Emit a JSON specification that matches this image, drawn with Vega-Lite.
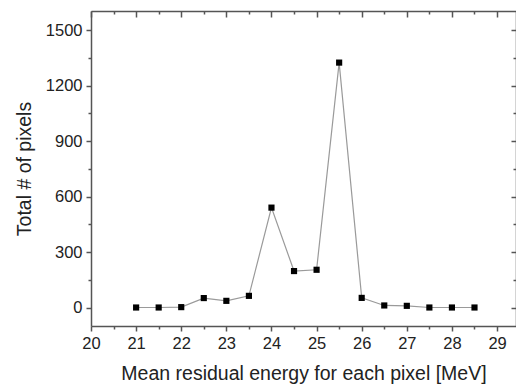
{
  "$schema": "https://vega.github.io/schema/vega-lite/v6.json",
  "autosize": "none",
  "width": 425,
  "height": 315,
  "padding": {"left": 91, "top": 11, "right": 0, "bottom": 59},
  "background": "white",
  "config": {
    "view": {"stroke": null},
    "axis": {
      "labelFont": "Liberation Sans",
      "titleFont": "Liberation Sans",
      "labelFontSize": 16.5,
      "titleFontSize": 19.5,
      "titleFontWeight": "normal",
      "labelColor": "#222",
      "titleColor": "#222",
      "domainColor": "#555",
      "domainWidth": 1.5,
      "tickColor": "#555",
      "tickWidth": 1.5,
      "grid": false
    }
  },
  "data": {
    "values": [
      {"e": 21.0, "n": 0},
      {"e": 21.5, "n": 0},
      {"e": 22.0, "n": 2},
      {"e": 22.5, "n": 51},
      {"e": 23.0, "n": 36},
      {"e": 23.5, "n": 63},
      {"e": 24.0, "n": 540},
      {"e": 24.5, "n": 197},
      {"e": 25.0, "n": 204},
      {"e": 25.5, "n": 1324},
      {"e": 26.0, "n": 52},
      {"e": 26.5, "n": 11},
      {"e": 27.0, "n": 9},
      {"e": 27.5, "n": 0},
      {"e": 28.0, "n": 0},
      {"e": 28.5, "n": 0}
    ]
  },
  "resolve": {"axis": {"x": "independent", "y": "independent"}},
  "layer": [
    {
      "mark": {
        "type": "line",
        "color": "#9a9a9a",
        "strokeWidth": 1.2,
        "point": {"shape": "square", "filled": true, "color": "black", "size": 38, "opacity": 1}
      },
      "encoding": {
        "x": {
          "field": "e",
          "type": "quantitative",
          "scale": {"domain": [20, 29.42], "nice": false, "zero": false},
          "axis": {
            "orient": "bottom",
            "title": "Mean residual energy for each pixel [MeV]",
            "values": [20, 20.5, 21, 21.5, 22, 22.5, 23, 23.5, 24, 24.5, 25, 25.5, 26, 26.5, 27, 27.5, 28, 28.5, 29],
            "labelExpr": "datum.value % 1 === 0 ? format(datum.value, 'd') : ''",
            "tickSize": {"condition": {"test": "datum.value % 1 === 0", "value": 5}, "value": 3},
            "labelPadding": 4,
            "titlePadding": 13,
            "labelFlush": false
          }
        },
        "y": {
          "field": "n",
          "type": "quantitative",
          "scale": {"domain": [-100, 1603], "nice": false, "zero": false},
          "axis": {
            "orient": "left",
            "title": "Total # of pixels",
            "values": [0, 150, 300, 450, 600, 750, 900, 1050, 1200, 1350, 1500],
            "labelExpr": "datum.value % 300 === 0 ? format(datum.value, 'd') : ''",
            "tickSize": {"condition": {"test": "datum.value % 300 === 0", "value": 5}, "value": 3},
            "labelPadding": 4,
            "titlePadding": 11,
            "labelFlush": false
          }
        }
      }
    },
    {
      "mark": {"type": "point", "opacity": 0},
      "encoding": {
        "x": {
          "field": "e",
          "type": "quantitative",
          "axis": {
            "orient": "top",
            "title": null,
            "labels": false,
            "values": [20, 20.5, 21, 21.5, 22, 22.5, 23, 23.5, 24, 24.5, 25, 25.5, 26, 26.5, 27, 27.5, 28, 28.5, 29],
            "tickSize": {"condition": {"test": "datum.value % 1 === 0", "value": -6}, "value": -3}
          }
        },
        "y": {
          "field": "n",
          "type": "quantitative",
          "axis": {
            "orient": "right",
            "title": null,
            "labels": false,
            "values": [0, 150, 300, 450, 600, 750, 900, 1050, 1200, 1350, 1500],
            "tickSize": {"condition": {"test": "datum.value % 300 === 0", "value": -5}, "value": -3}
          }
        }
      }
    }
  ]
}
